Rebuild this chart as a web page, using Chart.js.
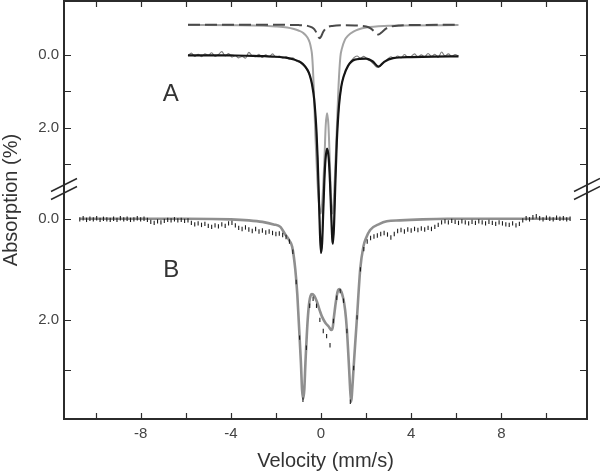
<!DOCTYPE html>
<html>
<head>
<meta charset="utf-8">
<script src="https://cdn.jsdelivr.net/npm/chart.js@4.4.1/dist/chart.umd.min.js"></script>
<style>
    html, body { margin: 0; padding: 0; background: #fff; }
    #wrap { width: 600px; height: 472px; }
</style>
</head>
<body>
<div id="wrap"><canvas id="chart"></canvas></div>
<script>
// ---- axis ticks ----
const xTicks = [-10, -8, -6, -4, -2, 0, 2, 4, 6, 8, 10];
const xTickLabels = ["", "-8", "", "-4", "", "0", "", "4", "", "8", ""];
const yTicks = [0, 1, 2, 3];
const yTickLabels = ["0.0", "", "2.0", ""];

// ---- spectrum A (upper) ----
const aFitVel = [-5.9, -5, -4, -3, -2.5, -2, -1.5, -1.2, -1, -0.8, -0.6, -0.5, -0.4, -0.3, -0.2, -0.15, -0.1, -0.05, 0, 0.05,
    0.1, 0.15, 0.2, 0.27, 0.34, 0.4, 0.45, 0.5, 0.53, 0.58, 0.63, 0.7, 0.8, 0.9, 1, 1.2, 1.5, 2, 2.3, 2.55,
    2.8, 3.2, 4, 5, 6.1];
const aFitVal = [0.01, 0.01, 0.015, 0.024, 0.035, 0.05, 0.083, 0.124, 0.17, 0.25, 0.41, 0.554, 0.8, 1.23, 2.1, 2.82, 3.78, 4.82, 5.44, 5.17,
    4.3, 3.44, 2.87, 2.57, 2.82, 3.49, 4.32, 5.05, 5.18, 4.66, 3.66, 2.41, 1.38, 0.87, 0.6, 0.3, 0.13, 0.1, 0.18, 0.32,
    0.19, 0.09, 0.06, 0.045, 0.04];

const aCompVel = [-5.9, -3, -2, -1.5, -1.2, -1, -0.8, -0.6, -0.5, -0.44, -0.4, -0.36, -0.32, -0.25, -0.16, -0.08, -0.01, 0.06, 0.15, 0.21,
    0.27, 0.33, 0.39, 0.45, 0.52, 0.61, 0.7, 0.78, 0.86, 0.93, 1.05, 1.2, 1.44, 2, 3, 4, 6.1];
const aCompVal = [-0.82, -0.81, -0.78, -0.75, -0.71, -0.67, -0.61, -0.48, -0.34, -0.18, -0.02, 0.35, 0.9, 2.2, 3.44, 4.13, 4.35, 4.0, 2.9, 1.93,
    1.6, 1.93, 2.9, 4.0, 4.35, 3.44, 2.07, 0.83, 0.05, -0.18, -0.4, -0.53, -0.64, -0.75, -0.8, -0.81, -0.82];

const aDashVel = [-5.9, -2, -1, -0.6, -0.4, -0.3, -0.2, -0.1, -0.06, 0, 0.1, 0.2, 0.3, 0.5, 1, 1.5, 2, 2.2, 2.4, 2.55,
    2.7, 2.9, 3.1, 3.5, 4, 6.1];
const aDashVal = [-0.83, -0.827, -0.818, -0.797, -0.756, -0.707, -0.61, -0.48, -0.46, -0.5, -0.634, -0.72, -0.766, -0.795, -0.812, -0.808, -0.778, -0.727, -0.624, -0.56,
    -0.624, -0.727, -0.777, -0.81, -0.82, -0.828];

const aDataVel = [-5.9, -5.75, -5.6, -5.45, -5.3, -5.15, -5.0, -4.85, -4.7, -4.55,
    -4.4, -4.25, -4.1, -3.95, -3.8, -3.65, -3.5, -3.35, -3.2, -3.05,
    -2.9, -2.75, -2.6, -2.45, -2.3, -2.15, -2.0, -1.85, -1.7, -1.55,
    -1.4, -1.25, -1.1, -0.95, -0.8, -0.65, -0.5, -0.4, -0.3, -0.2,
    -0.15, -0.1, -0.05, 0, 0.05, 0.1, 0.15, 0.2, 0.27, 0.34,
    0.4, 0.45, 0.5, 0.53, 0.58, 0.63, 0.7, 0.8, 0.9, 1.0,
    1.15, 1.3, 1.45, 1.6, 1.75, 1.9, 2.05, 2.2, 2.35, 2.5,
    2.65, 2.8, 2.95, 3.1, 3.25, 3.4, 3.55, 3.7, 3.85, 4.0,
    4.15, 4.3, 4.45, 4.6, 4.75, 4.9, 5.05, 5.2, 5.35, 5.5,
    5.65, 5.8, 5.95, 6.1];
const aDataVal = [0.02, -0.05, 0.04, -0.02, 0.05, -0.03, 0.01, -0.06, 0.04, -0.01,
    -0.09, 0.03, -0.04, 0.06, 0.02, 0.08, 0.04, 0.09, -0.07, 0.03,
    0.05, -0.02, 0.07, 0.0, 0.05, -0.03, 0.06, 0.03, 0.09, 0.05,
    0.12, 0.08, 0.17, 0.2, 0.28, 0.38, 0.56, 0.8, 1.23, 2.1,
    2.82, 3.78, 4.82, 5.44, 5.17, 4.3, 3.44, 2.87, 2.57, 2.82,
    3.49, 4.32, 5.05, 5.18, 4.66, 3.66, 2.41, 1.38, 0.87, 0.6,
    0.36, 0.2, 0.08, 0.03, 0.09, 0.04, 0.12, 0.17, 0.26, 0.34,
    0.3, 0.21, 0.12, 0.05, 0.1, 0.03, 0.08, -0.01, 0.06, 0.04,
    -0.03, 0.06, 0.0, 0.05, -0.04, 0.04, -0.02, 0.07, -0.08, 0.03,
    -0.03, 0.04, -0.01, 0.03];

// ---- spectrum B (lower) ----
const bDataVel = [-10.7, -10.55, -10.4, -10.25, -10.1, -9.95, -9.8, -9.65, -9.5, -9.35,
    -9.2, -9.05, -8.9, -8.75, -8.6, -8.45, -8.3, -8.15, -8.0, -7.85,
    -7.7, -7.55, -7.4, -7.25, -7.1, -6.95, -6.8, -6.65, -6.5, -6.35,
    -6.2, -6.05, -5.9, -5.75, -5.6, -5.45, -5.3, -5.15, -5.0, -4.85,
    -4.7, -4.55, -4.4, -4.25, -4.1, -3.95, -3.8, -3.65, -3.5, -3.35,
    -3.2, -3.05, -2.9, -2.75, -2.6, -2.45, -2.3, -2.15, -2.0, -1.85,
    -1.7, -1.55, -1.4, -1.25, -1.1, -0.95, -0.8, -0.65, -0.5, -0.35,
    -0.2, -0.05, 0.1, 0.25, 0.4, 0.55, 0.7, 0.85, 1.0, 1.15,
    1.3, 1.45, 1.6, 1.75, 1.9, 2.05, 2.2, 2.35, 2.5, 2.65,
    2.8, 2.95, 3.1, 3.25, 3.4, 3.55, 3.7, 3.85, 4.0, 4.15,
    4.3, 4.45, 4.6, 4.75, 4.9, 5.05, 5.2, 5.35, 5.5, 5.65,
    5.8, 5.95, 6.1, 6.25, 6.4, 6.55, 6.7, 6.85, 7.0, 7.15,
    7.3, 7.45, 7.6, 7.75, 7.9, 8.05, 8.2, 8.35, 8.5, 8.65,
    8.8, 8.95, 9.1, 9.25, 9.4, 9.55, 9.7, 9.85, 10.0, 10.15,
    10.3, 10.45, 10.6, 10.75, 10.9, 11.05];
const bDataVal = [0.01, -0.01, 0.02, 0.0, 0.01, -0.01, 0.02, 0.0, 0.01, 0.02,
    0.0, 0.02, -0.01, 0.01, 0.0, 0.02, 0.01, -0.01, 0.01, 0.0,
    0.02, 0.06, 0.08, 0.05, 0.07, 0.04, 0.02, 0.03, 0.01, 0.03,
    0.02, 0.04, 0.03, 0.08, 0.11, 0.09, 0.12, 0.1, 0.14, 0.16,
    0.13, 0.15, 0.11, 0.14, 0.09, 0.08, 0.13, 0.18, 0.2, 0.17,
    0.21, 0.24, 0.2, 0.25, 0.23, 0.27, 0.25, 0.28, 0.3, 0.29,
    0.32, 0.36, 0.45, 0.65, 1.25, 2.35, 3.58, 2.55, 1.72, 1.58,
    1.72, 2.0, 2.22, 2.32, 2.5, 2.02, 1.56, 1.43, 1.62, 2.22,
    3.62, 2.95, 1.95, 1.0, 0.6, 0.45, 0.38, 0.35, 0.33, 0.3,
    0.28, 0.31, 0.37, 0.3, 0.24, 0.22, 0.25, 0.21, 0.23, 0.2,
    0.22, 0.19, 0.21, 0.18, 0.2, 0.16, 0.12, 0.07, 0.05, 0.07,
    0.04, 0.06, 0.08, 0.05, 0.07, 0.09, 0.06, 0.08, 0.05, 0.07,
    0.09, 0.06, 0.08, 0.1, 0.07, 0.09, 0.11, 0.12, 0.09, 0.13,
    0.1, 0.03, -0.01, 0.01, -0.03, -0.05, -0.01, 0.01, -0.02, 0.0,
    0.01, -0.02, 0.0, -0.01, 0.01, 0.0];

const bFitVel = [-10.7, -6, -4, -3.2, -2.6, -2.1, -1.8, -1.6, -1.4, -1.28, -1.14, -1.05, -0.99, -0.89, -0.84, -0.79, -0.74, -0.69, -0.59, -0.52,
    -0.46, -0.4, -0.3, -0.18, -0.05, 0.04, 0.2, 0.34, 0.46, 0.52, 0.58, 0.63, 0.7, 0.76, 0.82, 0.9, 0.97, 1.07, 1.15, 1.25,
    1.3, 1.34, 1.38, 1.44, 1.52, 1.59, 1.74, 1.88, 2.0, 2.18, 2.6, 2.92, 3.5, 4.5, 5.6, 11.05];
const bFitVal = [0, 0, 0.01, 0.03, 0.06, 0.11, 0.16, 0.3, 0.43, 0.55, 1.0, 1.5, 2.0, 2.85, 3.38, 3.56, 3.38, 2.85, 2.0, 1.65,
    1.52, 1.49, 1.52, 1.64, 1.82, 1.93, 2.06, 2.13, 2.2, 2.15, 1.92, 1.74, 1.52, 1.41, 1.39, 1.44, 1.54, 1.8, 2.2, 2.99,
    3.42, 3.62, 3.42, 2.99, 2.45, 2.0, 1.0, 0.55, 0.38, 0.22, 0.1, 0.05, 0.03, 0.01, 0, 0];

const FONT = "'Liberation Sans', Arial, sans-serif";

function pts(xs, ys) {
    return xs.map(function (x, i) {
        return { x: x, y: ys[i] };
    });
}

// frame, inward ticks, axis break marks and text
const framePlugin = {
    id: "frame",
    afterDraw: function (chart) {
        const ctx = chart.ctx;
        const a = chart.chartArea;
        const sx = chart.scales.x;
        const yA = chart.scales.yA;
        const yB = chart.scales.yB;

        ctx.save();
        ctx.strokeStyle = "#2b2b2b";
        ctx.lineWidth = 2;
        ctx.strokeRect(a.left, a.top, a.right - a.left, a.bottom - a.top);

        ctx.lineWidth = 1.2;
        ctx.beginPath();
        xTicks.forEach(function (v) {
            const px = Math.round(sx.getPixelForValue(v)) + 0.5;
            ctx.moveTo(px, a.bottom);
            ctx.lineTo(px, a.bottom - 6);
            ctx.moveTo(px, a.top);
            ctx.lineTo(px, a.top + 6);
        });
        [yA, yB].forEach(function (s) {
            yTicks.forEach(function (v) {
                const py = Math.round(s.getPixelForValue(v)) + 0.5;
                ctx.moveTo(a.left, py);
                ctx.lineTo(a.left + 7, py);
                ctx.moveTo(a.right, py);
                ctx.lineTo(a.right - 7, py);
            });
        });
        ctx.stroke();

        // break marks
        const yb = yA.bottom;
        ctx.lineWidth = 1.4;
        ctx.beginPath();
        [a.left, a.right].forEach(function (x) {
            ctx.moveTo(x - 13, yb + 2.5);
            ctx.lineTo(x + 13, yb - 10.5);
            ctx.moveTo(x - 13, yb + 10.5);
            ctx.lineTo(x + 13, yb - 2.5);
        });
        ctx.stroke();

        // panel letters
        ctx.fillStyle = "#333";
        ctx.textAlign = "center";
        ctx.textBaseline = "middle";
        ctx.font = "24px " + FONT;
        ctx.fillText("A", sx.getPixelForValue(-6.66), yA.getPixelForValue(1.07));
        ctx.fillText("B", sx.getPixelForValue(-6.64), yB.getPixelForValue(1.01));

        // axis titles
        ctx.font = "20px " + FONT;
        ctx.fillText("Velocity (mm/s)", (a.left + a.right) / 2, 461);
        ctx.translate(11, 200);
        ctx.rotate(-Math.PI / 2);
        ctx.fillText("Absorption (%)", 0, 0);
        ctx.restore();
    }
};

function yScale(min, max, weight) {
    return {
        type: "linear",
        position: "left",
        stack: "y",
        stackWeight: weight,
        reverse: true,
        min: min,
        max: max,
        grid: { display: false, drawTicks: false },
        border: { display: false },
        afterBuildTicks: function (s) {
            s.ticks = yTicks.map(function (v) { return { value: v }; });
        },
        afterFit: function (s) {
            s.width = 64;
            s.paddingTop = 0;
            s.paddingBottom = 0;
        },
        ticks: {
            padding: 5,
            color: "#444",
            font: { family: FONT, size: 15 },
            callback: function (v, i) { return yTickLabels[i]; }
        }
    };
}

new Chart(document.getElementById("chart"), {
    type: "line",
    data: {
        datasets: [
            {
                data: pts(aFitVel, aFitVal), yAxisID: "yA",
                borderColor: "#151515", borderWidth: 2.2, pointRadius: 0,
                cubicInterpolationMode: "monotone", clip: false
            },
            {
                data: pts(bDataVel, bDataVal), yAxisID: "yB", showLine: false,
                pointStyle: "line", pointRotation: 90, pointRadius: 2.2,
                pointBorderColor: "#1c1c1c", pointBorderWidth: 1.1, borderColor: "#1c1c1c"
            },
            {
                data: pts(aDashVel, aDashVal), yAxisID: "yA",
                borderColor: "#4a4a4a", borderWidth: 2, borderDash: [12, 5], pointRadius: 0,
                cubicInterpolationMode: "monotone", clip: false
            },
            {
                data: pts(aCompVel, aCompVal), yAxisID: "yA",
                borderColor: "#a3a3a3", borderWidth: 2, pointRadius: 0,
                cubicInterpolationMode: "monotone", clip: false
            },
            {
                data: pts(aDataVel, aDataVal), yAxisID: "yA",
                borderColor: "#7c7c7c", borderWidth: 1.1, pointRadius: 0,
                cubicInterpolationMode: "monotone", clip: false
            },
            {
                data: pts(bFitVel, bFitVal), yAxisID: "yB",
                borderColor: "#8f8f8f", borderWidth: 2.6, pointRadius: 0,
                cubicInterpolationMode: "monotone"
            }
        ]
    },
    options: {
        responsive: true,
        maintainAspectRatio: false,
        animation: false,
        layout: { autoPadding: false, padding: { top: 1, right: 13, left: 0, bottom: 0 } },
        plugins: { legend: { display: false }, tooltip: { enabled: false } },
        scales: {
            x: {
                type: "linear",
                min: -11.4,
                max: 11.8,
                grid: { display: false, drawTicks: false },
                border: { display: false },
                afterBuildTicks: function (s) {
                    s.ticks = xTicks.map(function (v) { return { value: v }; });
                },
                afterFit: function (s) {
                    s.height = 53;
                    s.paddingLeft = 0;
                    s.paddingRight = 0;
                },
                ticks: {
                    autoSkip: false,
                    maxRotation: 0,
                    padding: 6,
                    color: "#444",
                    font: { family: FONT, size: 15 },
                    callback: function (v, i) { return xTickLabels[i]; }
                }
            },
            yB: yScale(-0.59, 3.96, 230),
            yA: yScale(-1.48, 3.68, 188)
        }
    },
    plugins: [framePlugin]
});
</script>
</body>
</html>
